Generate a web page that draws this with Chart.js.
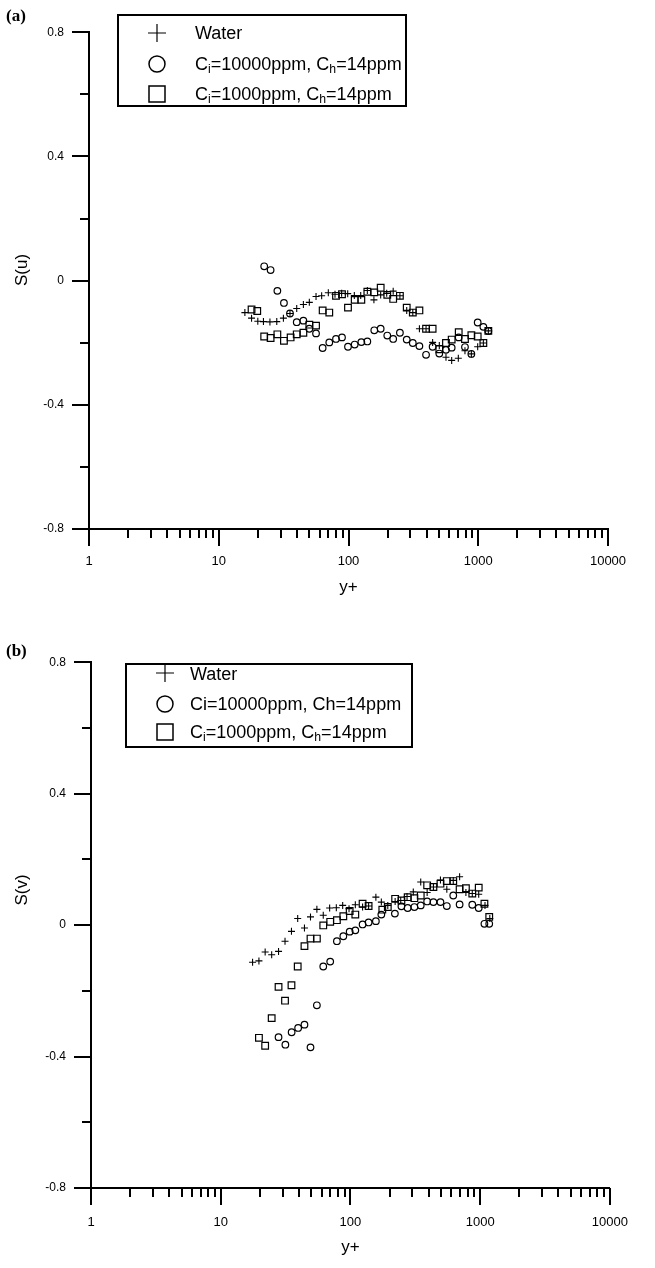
<!DOCTYPE html>
<html>
<head>
<meta charset="utf-8">
<script src="https://cdn.jsdelivr.net/npm/chart.js@4.4.1/dist/chart.umd.min.js"></script>
<style>
html, body { margin: 0; padding: 0; background: #fff; }
body { width: 655px; height: 1268px; position: relative; overflow: hidden; font-family: "Liberation Sans", Arial, sans-serif; color: #000; }
.panel  { position: absolute; left: 0; width: 655px; }
.panel canvas { display: block; }
.tag    { position: absolute; left: 6px; font-family: "Liberation Serif", "Times New Roman", serif; font-weight: bold; font-size: 17px; line-height: 17px; }
.ytitle { position: absolute; width: 60px; height: 20px; margin: -10px 0 0 -30px; text-align: center; font-size: 17px; line-height: 20px; transform: rotate(-90deg); }
.legend { position: absolute; border: 2px solid #000; box-sizing: border-box; background: #fff; will-change: transform; }
.legend svg  { position: absolute; }
.legend .txt { position: absolute; font-size: 18px; line-height: 20px; height: 20px; white-space: nowrap; }
sub { font-size: 68%; vertical-align: -0.28em; line-height: 0; }
</style>
</head>
<body>

<div class="panel" style="top:0;height:620px"><canvas id="chart-u" width="655" height="620"></canvas></div>
<div class="panel" style="top:630px;height:638px"><canvas id="chart-v" width="655" height="638"></canvas></div>

<div class="tag" style="top:7px">(a)</div>
<div class="tag" style="top:642px">(b)</div>

<div class="ytitle" style="left:22px;top:270px">S(u)</div>
<div class="ytitle" style="left:22px;top:890px">S(v)</div>

<div class="legend" style="left:117px;top:14px;width:290px;height:93px">
  <svg style="left:28px;top:7px" width="20" height="20"><path d="M1 10H19M10 1V19" stroke="#000" stroke-width="1.2" fill="none"/></svg>
  <div class="txt" style="left:76px;top:7px">Water</div>
  <svg style="left:28px;top:38px" width="20" height="20"><circle cx="10" cy="10" r="8" stroke="#000" stroke-width="1.5" fill="none"/></svg>
  <div class="txt" style="left:76px;top:38px">C<sub>i</sub>=10000ppm, C<sub>h</sub>=14ppm</div>
  <svg style="left:28px;top:68px" width="20" height="20"><rect x="2" y="2" width="16" height="16" stroke="#000" stroke-width="1.5" fill="none"/></svg>
  <div class="txt" style="left:76px;top:68px">C<sub>i</sub>=1000ppm, C<sub>h</sub>=14ppm</div>
</div>

<div class="legend" style="left:125px;top:663px;width:288px;height:85px">
  <svg style="left:28px;top:-2px" width="20" height="20"><path d="M1 10H19M10 1V19" stroke="#000" stroke-width="1.2" fill="none"/></svg>
  <div class="txt" style="left:63px;top:-1px">Water</div>
  <svg style="left:28px;top:29px" width="20" height="20"><circle cx="10" cy="10" r="8" stroke="#000" stroke-width="1.5" fill="none"/></svg>
  <div class="txt" style="left:63px;top:29px">Ci=10000ppm, Ch=14ppm</div>
  <svg style="left:28px;top:57px" width="20" height="20"><rect x="2" y="2" width="16" height="16" stroke="#000" stroke-width="1.5" fill="none"/></svg>
  <div class="txt" style="left:63px;top:57px">C<sub>i</sub>=1000ppm, C<sub>h</sub>=14ppm</div>
</div>

<script>
"use strict";

const $    = id => document.getElementById(id);
const FONT = "'Liberation Sans', Arial, sans-serif";

// ── Axes
const xMajor      = [1, 10, 100, 1000, 10000];
const xTickLabels = ["1", "10", "100", "1000", "10000"];
const yMajor      = [-0.8, -0.4, 0, 0.4, 0.8];
const yTickLabels = ["-0.8", "-0.4", "0", "0.4", "0.8"];

// ── (a) S(u)
const uWaterX = [15.9, 17.9, 20.0, 22.1, 24.8, 28.0, 31.5, 35.4, 39.9, 44.9, 49.9, 56.2, 62.1, 69.9, 78.7, 88.5, 98.6, 110.9, 124.2, 139.7,
                 157, 177, 197, 221, 249, 281, 313, 352, 396, 445, 501, 564, 624, 702, 790, 885, 990, 1095, 1196];
const uWaterY = [-0.103, -0.121, -0.131, -0.132, -0.133, -0.132, -0.121, -0.106, -0.090, -0.077, -0.070, -0.051, -0.049, -0.039, -0.044, -0.041, -0.042, -0.048, -0.048, -0.032,
                 -0.062, -0.046, -0.041, -0.034, -0.049, -0.096, -0.103, -0.155, -0.155, -0.199, -0.209, -0.247, -0.257, -0.250, -0.226, -0.236, -0.213, -0.201, -0.162];

const uHiX = [22.4, 25.1, 28.3, 31.8, 35.4, 39.9, 44.9, 49.9, 56.2, 63.2, 71.1, 80.1, 89.1, 99.1, 111.6, 125.6, 139.7,
              158, 177, 199, 221, 249, 281, 313, 352, 396, 445, 501, 564, 624, 707, 790, 885, 990, 1095, 1196];
const uHiY = [0.046, 0.034, -0.033, -0.072, -0.106, -0.134, -0.129, -0.155, -0.170, -0.217, -0.199, -0.188, -0.183, -0.213, -0.206, -0.198, -0.196,
              -0.160, -0.155, -0.177, -0.188, -0.168, -0.190, -0.201, -0.211, -0.239, -0.213, -0.235, -0.223, -0.216, -0.183, -0.214, -0.236, -0.135, -0.149, -0.162];

const uLoX = [17.9, 19.8, 22.4, 25.1, 28.3, 31.8, 35.8, 39.9, 44.9, 49.9, 56.2, 63.2, 71.1, 80.1, 89.1, 99.1, 111.6, 125.6, 139.7,
              158, 177, 199, 221, 249, 281, 313, 352, 396, 445, 501, 564, 624, 707, 790, 885, 990, 1095, 1196];
const uLoY = [-0.093, -0.098, -0.180, -0.185, -0.173, -0.194, -0.183, -0.173, -0.168, -0.142, -0.145, -0.096, -0.103, -0.049, -0.044, -0.087, -0.062, -0.062, -0.036,
              -0.038, -0.023, -0.046, -0.059, -0.049, -0.087, -0.103, -0.096, -0.155, -0.155, -0.221, -0.201, -0.190, -0.166, -0.188, -0.176, -0.180, -0.201, -0.162];

// ── (b) S(v)
const vWaterX = [17.6, 19.7, 22.0, 24.7, 27.9, 31.3, 35.1, 39.2, 44.2, 49.2, 55.1, 61.7, 69.1, 77.8, 87.1, 97.5, 109,
                 124, 138, 157, 173, 194, 221, 244, 273, 305, 348, 390, 436, 494, 553, 620, 694, 776, 869, 974, 1089, 1186];
const vWaterY = [-0.113, -0.109, -0.082, -0.090, -0.080, -0.049, -0.019, 0.020, -0.009, 0.025, 0.048, 0.030, 0.052, 0.053, 0.060, 0.050, 0.062,
                 0.055, 0.058, 0.085, 0.070, 0.060, 0.072, 0.075, 0.087, 0.101, 0.131, 0.099, 0.116, 0.137, 0.109, 0.136, 0.147, 0.099, 0.096, 0.094, 0.060, 0.020];

const vHiX = [27.9, 31.5, 35.2, 39.5, 44.2, 49.2, 55.1, 61.7, 69.8, 78.6, 88.1, 98.6, 109,
              124, 138, 157, 173, 220, 247, 276, 311, 348, 390, 436, 494, 553, 620, 694, 869, 974, 1078, 1174];
const vHiY = [-0.341, -0.364, -0.326, -0.313, -0.303, -0.372, -0.244, -0.126, -0.111, -0.049, -0.034, -0.020, -0.016,
              0.002, 0.008, 0.012, 0.032, 0.035, 0.057, 0.052, 0.055, 0.060, 0.072, 0.070, 0.070, 0.058, 0.090, 0.063, 0.062, 0.052, 0.004, 0.004];

const vLoX = [19.7, 22.0, 24.7, 27.9, 31.3, 35.1, 39.2, 44.2, 49.2, 55.1, 61.7, 69.8, 78.6, 88.1, 98.6, 109,
              124, 138, 176, 194, 221, 247, 276, 311, 348, 390, 436, 494, 553, 620, 694, 776, 869, 974, 1078, 1174];
const vLoY = [-0.343, -0.367, -0.283, -0.188, -0.230, -0.183, -0.126, -0.064, -0.041, -0.041, -0.001, 0.010, 0.015, 0.027, 0.043, 0.032,
              0.065, 0.058, 0.047, 0.055, 0.080, 0.075, 0.085, 0.082, 0.090, 0.121, 0.116, 0.126, 0.134, 0.134, 0.109, 0.112, 0.096, 0.114, 0.065, 0.025];

// ── Helpers
const pts = (xs, ys) => xs.map((x, i) => ({ x, y: ys[i] }));

const MARK = {
  cross:  { pointStyle: "cross",  radius: 3.5, borderWidth: 1.1 },
  circle: { pointStyle: "circle", radius: 3.3, borderWidth: 1.2 },
  rect:   { pointStyle: "rect",   radius: 4.7, borderWidth: 1.2 },
};

// ── Tick marks (long at decades / every 0.4, short in between)
const tickMarks = {
  id: "tickMarks",
  afterDraw(chart) {
    const { ctx, chartArea: ca, scales: { x, y } } = chart;
    const L = 17, l = 9;
    ctx.save();
    ctx.strokeStyle = "#000";
    ctx.lineWidth = 2;
    ctx.beginPath();
    xMajor.forEach((d, i) => {
      const px = Math.round(x.getPixelForValue(d));
      ctx.moveTo(px, ca.bottom); ctx.lineTo(px, ca.bottom + L);
      if (i === xMajor.length - 1) return;
      for (let k = 2; k <= 9; k++) {
        const p = Math.round(x.getPixelForValue(d * k));
        ctx.moveTo(p, ca.bottom); ctx.lineTo(p, ca.bottom + l);
      }
    });
    yMajor.forEach((v, i) => {
      const py = Math.round(y.getPixelForValue(v));
      ctx.moveTo(ca.left, py); ctx.lineTo(ca.left - L, py);
      if (i === yMajor.length - 1) return;
      const pm = Math.round(y.getPixelForValue((v + yMajor[i + 1]) / 2));
      ctx.moveTo(ca.left, pm); ctx.lineTo(ca.left - l, pm);
    });
    ctx.stroke();
    ctx.restore();
  }
};

function makePanel(id, series, g) {
  return new Chart($(id), {
    type: "scatter",
    data: {
      datasets: series.map(s => ({
        data: pts(s.xs, s.ys),
        ...MARK[s.mark],
        borderColor: "#000",
        backgroundColor: "rgba(0,0,0,0)",
        showLine: false,
      })),
    },
    options: {
      responsive: false, animation: false, devicePixelRatio: 1,
      layout: { padding: { left: 0, top: g.top, right: g.right, bottom: 0 } },
      plugins: { legend: { display: false }, tooltip: { enabled: false } },
      scales: {
        x: {
          type: "logarithmic", position: "bottom", min: 1, max: 10000,
          afterBuildTicks: s => { s.ticks = xMajor.map(v => ({ value: v })); },
          afterFit: s => { s.height = g.xh; },
          grid: { display: false, drawTicks: false },
          border: { display: true, color: "#000", width: 2 },
          ticks: { callback: (v, i) => xTickLabels[i], padding: g.xpad, color: "#000", autoSkip: false, maxRotation: 0,
                   font: { family: FONT, size: 13 } },
          title: { display: true, text: "y+", color: "#000", font: { family: FONT, size: 17 }, padding: { top: 0, bottom: g.xtp } },
        },
        y: {
          type: "linear", position: "left", min: -0.8, max: 0.8,
          afterBuildTicks: s => { s.ticks = yMajor.map(v => ({ value: v })); },
          afterFit: s => { s.width = g.left; },
          grid: { display: false, drawTicks: false },
          border: { display: true, color: "#000", width: 2 },
          ticks: { callback: (v, i) => yTickLabels[i], padding: 25, color: "#000", font: { family: FONT, size: 12 } },
        },
      },
    },
    plugins: [tickMarks],
  });
}

makePanel("chart-u", [
  { xs: uWaterX, ys: uWaterY, mark: "cross" },
  { xs: uHiX,    ys: uHiY,    mark: "circle" },
  { xs: uLoX,    ys: uLoY,    mark: "rect" },
], { top: 11, right: 47, left: 89, xh: 91, xpad: 25, xtp: 22 });

makePanel("chart-v", [
  { xs: vWaterX, ys: vWaterY, mark: "cross" },
  { xs: vHiX,    ys: vHiY,    mark: "circle" },
  { xs: vLoX,    ys: vLoY,    mark: "rect" },
], { top: 19, right: 21, left: 91, xh: 80, xpad: 27, xtp: 10 });
</script>
</body>
</html>
